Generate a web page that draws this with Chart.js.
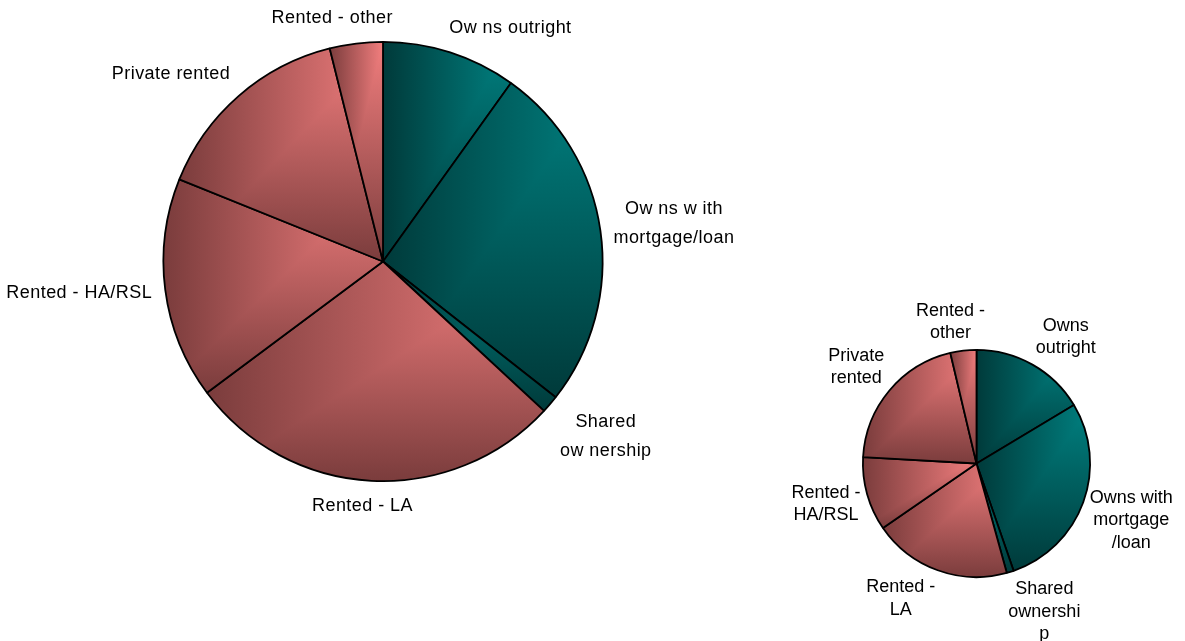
<!DOCTYPE html>
<html>
<head>
<meta charset="utf-8">
<script src="https://cdn.jsdelivr.net/npm/chart.js@4.4.1/dist/chart.umd.min.js"></script>
<style>
  html, body { margin: 0; padding: 0; background: #fff; }
  #wrap { position: relative; width: 1185px; height: 641px; }
  #wrap canvas { position: absolute; left: 0; top: 0; }
</style>
</head>
<body>
<div id="wrap">
  <canvas id="bigPie" width="1185" height="641"></canvas>
  <canvas id="smallPie" width="1185" height="641"></canvas>
</div>
<script>
// tenure categories, clockwise from 12 o'clock
const tenures = ["Owns outright", "Owns with mortgage/loan", "Shared ownership",
                 "Rented - LA", "Rented - HA/RSL", "Private rented", "Rented - other"];

// shares (%) for each pie
const bigShares = [9.9, 25.7, 1.3, 27.9, 16.3, 15.0, 3.9];
const smallShares = [16.4, 28.3, 1.0, 19.7, 10.5, 20.4, 3.7];

// label text as printed next to each slice
const bigLabels = [["Ow ns outright"], ["Ow ns w ith", "mortgage/loan"], ["Shared", "ow nership"],
                   ["Rented - LA"], ["Rented - HA/RSL"], ["Private rented"], ["Rented - other"]];
const smallLabels = [["Owns", "outright"], ["Owns with", "mortgage", "/loan"], ["Shared", "ownershi", "p"],
                     ["Rented -", "LA"], ["Rented -", "HA/RSL"], ["Private", "rented"], ["Rented -", "other"]];

// dark -> light shade for each slice (owners teal, renters pink)
const teal = ["rgb(0,58,58)", "rgb(0,128,128)"];
const pink = ["rgb(122,60,60)", "rgb(242,126,126)"];
const shades = [teal, teal, teal, pink, pink, pink, pink];

const clamp = (v) => Math.max(-1, Math.min(1, v));

function arcGeometry(arc) {
    return arc.getProps(["x", "y", "startAngle", "endAngle", "outerRadius"], true);
}

// corner shading: light at the top-right of the slice's box, dark to the left and bottom
function cornerFill(ctx, w, h, dark, light) {
    const off = document.createElement("canvas");
    off.width = w;
    off.height = h;
    const oc = off.getContext("2d");
    const gx = oc.createLinearGradient(0, 0, w, 0);
    gx.addColorStop(0, dark);
    gx.addColorStop(1, light);
    oc.fillStyle = gx;
    oc.fillRect(0, 0, w, h);
    // keep the darker of the two ramps
    oc.globalCompositeOperation = "darken";
    const gy = oc.createLinearGradient(0, h, 0, 0);
    gy.addColorStop(0, dark);
    gy.addColorStop(1, light);
    oc.fillStyle = gy;
    oc.fillRect(0, 0, w, h);
    return ctx.createPattern(off, "no-repeat");
}

const sliceGradient = {
    id: "sliceGradient",
    beforeDatasetsDraw(chart) {
        const ctx = chart.ctx;
        chart.getDatasetMeta(0).data.forEach((arc, i) => {
            const { x, y, startAngle, endAngle, outerRadius } = arcGeometry(arc);
            const pts = [[x, y],
                [x + Math.cos(startAngle) * outerRadius, y + Math.sin(startAngle) * outerRadius],
                [x + Math.cos(endAngle) * outerRadius, y + Math.sin(endAngle) * outerRadius]];
            // include the circle's extreme points that fall inside the slice
            for (let k = -4; k <= 8; k++) {
                const a = k * Math.PI / 2;
                if (a > startAngle && a < endAngle) {
                    pts.push([x + Math.cos(a) * outerRadius, y + Math.sin(a) * outerRadius]);
                }
            }
            const xs = pts.map(p => p[0]), ys = pts.map(p => p[1]);
            const x0 = Math.floor(Math.min(...xs)), x1 = Math.ceil(Math.max(...xs));
            const y0 = Math.floor(Math.min(...ys)), y1 = Math.ceil(Math.max(...ys));
            const pattern = cornerFill(ctx, Math.max(1, x1 - x0), Math.max(1, y1 - y0),
                                       shades[i][0], shades[i][1]);
            pattern.setTransform(new DOMMatrix().translate(x0, y0));
            arc.options.backgroundColor = pattern;
        });
    }
};

// text labels placed just outside each slice
const sliceLabels = {
    id: "sliceLabels",
    afterDatasetsDraw(chart, args, opts) {
        const ctx = chart.ctx;
        ctx.save();
        ctx.font = opts.font;
        ctx.letterSpacing = opts.spacing;
        ctx.fillStyle = "#000";
        ctx.textAlign = "center";
        ctx.textBaseline = "middle";
        chart.getDatasetMeta(0).data.forEach((arc, i) => {
            const { x, y, startAngle, endAngle, outerRadius } = arcGeometry(arc);
            const mid = (startAngle + endAngle) / 2;
            const dx = Math.cos(mid), dy = Math.sin(mid);
            const ax = x + dx * outerRadius * 1.06;
            const ay = y + dy * outerRadius * 1.075;
            const lines = opts.lines[i];
            const w = Math.max(...lines.map(l => ctx.measureText(l).width));
            const h = (lines.length - 1) * opts.lineHeight + opts.size;
            const cx = ax + w / 2 * clamp(dx * 3);
            const cy = ay + h / 2 * clamp(dy * 1.4);
            lines.forEach((l, j) => {
                ctx.fillText(l, cx, cy - h / 2 + opts.size / 2 + opts.lineHeight * j);
            });
        });
        ctx.restore();
    }
};

function makePie(canvasId, shares, labels, padding, lineHeight, spacing) {
    return new Chart(document.getElementById(canvasId), {
        type: "pie",
        data: {
            labels: tenures,
            datasets: [{
                data: shares,
                backgroundColor: shades.map(s => s[1]),
                borderColor: "#000",
                borderWidth: 1.8,
            }],
        },
        options: {
            responsive: false,
            animation: false,
            layout: { padding: padding },
            plugins: {
                legend: { display: false },
                tooltip: { enabled: false },
                sliceLabels: {
                    lines: labels,
                    lineHeight: lineHeight,
                    size: 18,
                    spacing: spacing,
                    font: "18px 'Liberation Sans', Arial, sans-serif",
                },
            },
        },
        plugins: [sliceGradient, sliceLabels],
    });
}

makePie("bigPie", bigShares, bigLabels, { left: 162, right: 581, top: 41, bottom: 159 }, 29, "0.45px");
makePie("smallPie", smallShares, smallLabels, { left: 862, right: 94, top: 349, bottom: 63 }, 22.5, "0px");
</script>
</body>
</html>
